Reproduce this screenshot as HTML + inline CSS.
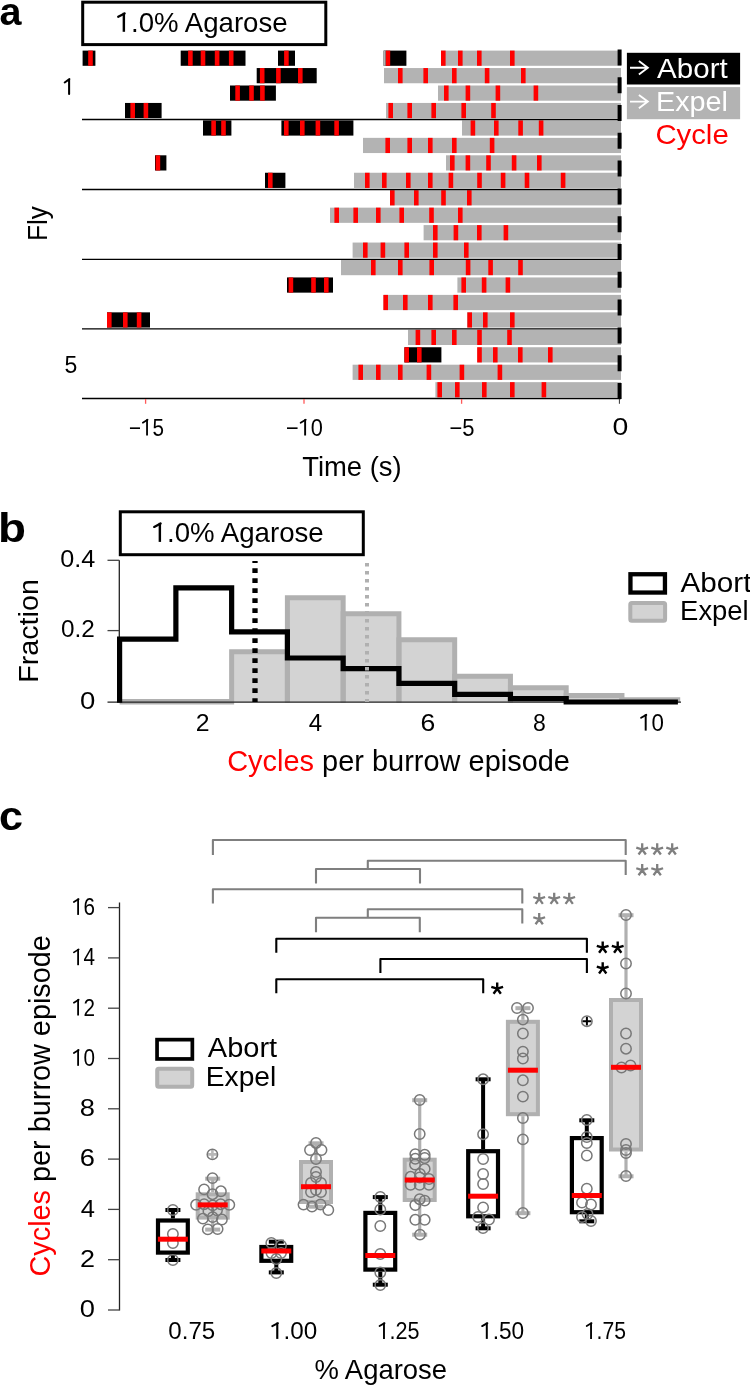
<!DOCTYPE html>
<html><head><meta charset="utf-8"><title>Figure</title>
<style>
html,body{margin:0;padding:0;background:#fff;}
svg{display:block;will-change:transform;font-family:"Liberation Sans", sans-serif;}
</style></head>
<body>
<svg width="750" height="1385" viewBox="0 0 750 1385">
<rect width="750" height="1385" fill="#fff"/>
<rect x="82.7" y="2.2" width="243.1" height="42.4" fill="none" stroke="#000" stroke-width="3"/>
<rect x="82.6" y="50.60" width="12.80" height="15.2" fill="#000"/>
<rect x="88.2" y="50.60" width="4.6" height="15.2" fill="#ff0000"/>
<rect x="180.7" y="50.60" width="64.80" height="15.2" fill="#000"/>
<rect x="188.1" y="50.60" width="4.6" height="15.2" fill="#ff0000"/>
<rect x="200.7" y="50.60" width="4.6" height="15.2" fill="#ff0000"/>
<rect x="214.8" y="50.60" width="4.6" height="15.2" fill="#ff0000"/>
<rect x="228.9" y="50.60" width="4.6" height="15.2" fill="#ff0000"/>
<rect x="278" y="50.60" width="17.00" height="15.2" fill="#000"/>
<rect x="284.1" y="50.60" width="4.6" height="15.2" fill="#ff0000"/>
<rect x="383.6" y="50.60" width="22.80" height="15.2" fill="#000"/>
<rect x="385.6" y="50.60" width="4.6" height="15.2" fill="#ff0000"/>
<rect x="441" y="50.60" width="180.00" height="15.2" fill="#b3b3b3"/>
<rect x="441" y="50.60" width="4.6" height="15.2" fill="#ff0000"/>
<rect x="458" y="50.60" width="4.6" height="15.2" fill="#ff0000"/>
<rect x="477" y="50.60" width="4.6" height="15.2" fill="#ff0000"/>
<rect x="510" y="50.60" width="4.6" height="15.2" fill="#ff0000"/>
<rect x="256.7" y="68.05" width="60.00" height="15.2" fill="#000"/>
<rect x="259.9" y="68.05" width="4.6" height="15.2" fill="#ff0000"/>
<rect x="276.1" y="68.05" width="4.6" height="15.2" fill="#ff0000"/>
<rect x="298" y="68.05" width="4.6" height="15.2" fill="#ff0000"/>
<rect x="384" y="68.05" width="237.00" height="15.2" fill="#b3b3b3"/>
<rect x="398" y="68.05" width="4.6" height="15.2" fill="#ff0000"/>
<rect x="423.4" y="68.05" width="4.6" height="15.2" fill="#ff0000"/>
<rect x="452" y="68.05" width="4.6" height="15.2" fill="#ff0000"/>
<rect x="484.8" y="68.05" width="4.6" height="15.2" fill="#ff0000"/>
<rect x="521" y="68.05" width="4.6" height="15.2" fill="#ff0000"/>
<rect x="230" y="85.50" width="45.90" height="15.2" fill="#000"/>
<rect x="235.3" y="85.50" width="4.6" height="15.2" fill="#ff0000"/>
<rect x="249.2" y="85.50" width="4.6" height="15.2" fill="#ff0000"/>
<rect x="260.1" y="85.50" width="4.6" height="15.2" fill="#ff0000"/>
<rect x="438" y="85.50" width="183.00" height="15.2" fill="#b3b3b3"/>
<rect x="444" y="85.50" width="4.6" height="15.2" fill="#ff0000"/>
<rect x="465.6" y="85.50" width="4.6" height="15.2" fill="#ff0000"/>
<rect x="495.6" y="85.50" width="4.6" height="15.2" fill="#ff0000"/>
<rect x="533.6" y="85.50" width="4.6" height="15.2" fill="#ff0000"/>
<rect x="125" y="102.95" width="36.60" height="15.2" fill="#000"/>
<rect x="130.4" y="102.95" width="4.6" height="15.2" fill="#ff0000"/>
<rect x="143.6" y="102.95" width="4.6" height="15.2" fill="#ff0000"/>
<rect x="386" y="102.95" width="235.00" height="15.2" fill="#b3b3b3"/>
<rect x="388.4" y="102.95" width="4.6" height="15.2" fill="#ff0000"/>
<rect x="407.4" y="102.95" width="4.6" height="15.2" fill="#ff0000"/>
<rect x="431.4" y="102.95" width="4.6" height="15.2" fill="#ff0000"/>
<rect x="461.4" y="102.95" width="4.6" height="15.2" fill="#ff0000"/>
<rect x="491.2" y="102.95" width="4.6" height="15.2" fill="#ff0000"/>
<rect x="203" y="120.40" width="28.40" height="15.2" fill="#000"/>
<rect x="211.3" y="120.40" width="4.6" height="15.2" fill="#ff0000"/>
<rect x="221.2" y="120.40" width="4.6" height="15.2" fill="#ff0000"/>
<rect x="281.4" y="120.40" width="72.00" height="15.2" fill="#000"/>
<rect x="284" y="120.40" width="4.6" height="15.2" fill="#ff0000"/>
<rect x="300" y="120.40" width="4.6" height="15.2" fill="#ff0000"/>
<rect x="315.6" y="120.40" width="4.6" height="15.2" fill="#ff0000"/>
<rect x="334.3" y="120.40" width="4.6" height="15.2" fill="#ff0000"/>
<rect x="462" y="120.40" width="159.00" height="15.2" fill="#b3b3b3"/>
<rect x="470.6" y="120.40" width="4.6" height="15.2" fill="#ff0000"/>
<rect x="494" y="120.40" width="4.6" height="15.2" fill="#ff0000"/>
<rect x="518.3" y="120.40" width="4.6" height="15.2" fill="#ff0000"/>
<rect x="538.8" y="120.40" width="4.6" height="15.2" fill="#ff0000"/>
<rect x="363" y="137.85" width="258.00" height="15.2" fill="#b3b3b3"/>
<rect x="385.4" y="137.85" width="4.6" height="15.2" fill="#ff0000"/>
<rect x="407.4" y="137.85" width="4.6" height="15.2" fill="#ff0000"/>
<rect x="428" y="137.85" width="4.6" height="15.2" fill="#ff0000"/>
<rect x="452" y="137.85" width="4.6" height="15.2" fill="#ff0000"/>
<rect x="489.8" y="137.85" width="4.6" height="15.2" fill="#ff0000"/>
<rect x="155" y="155.30" width="11.40" height="15.2" fill="#000"/>
<rect x="155.6" y="155.30" width="4.6" height="15.2" fill="#ff0000"/>
<rect x="446" y="155.30" width="175.00" height="15.2" fill="#b3b3b3"/>
<rect x="450" y="155.30" width="4.6" height="15.2" fill="#ff0000"/>
<rect x="465.6" y="155.30" width="4.6" height="15.2" fill="#ff0000"/>
<rect x="486.2" y="155.30" width="4.6" height="15.2" fill="#ff0000"/>
<rect x="511.8" y="155.30" width="4.6" height="15.2" fill="#ff0000"/>
<rect x="537" y="155.30" width="4.6" height="15.2" fill="#ff0000"/>
<rect x="265" y="172.75" width="20.40" height="15.2" fill="#000"/>
<rect x="268" y="172.75" width="4.6" height="15.2" fill="#ff0000"/>
<rect x="354" y="172.75" width="267.00" height="15.2" fill="#b3b3b3"/>
<rect x="365" y="172.75" width="4.6" height="15.2" fill="#ff0000"/>
<rect x="382" y="172.75" width="4.6" height="15.2" fill="#ff0000"/>
<rect x="406" y="172.75" width="4.6" height="15.2" fill="#ff0000"/>
<rect x="428" y="172.75" width="4.6" height="15.2" fill="#ff0000"/>
<rect x="448.6" y="172.75" width="4.6" height="15.2" fill="#ff0000"/>
<rect x="477.2" y="172.75" width="4.6" height="15.2" fill="#ff0000"/>
<rect x="500.8" y="172.75" width="4.6" height="15.2" fill="#ff0000"/>
<rect x="524.7" y="172.75" width="4.6" height="15.2" fill="#ff0000"/>
<rect x="560.8" y="172.75" width="4.6" height="15.2" fill="#ff0000"/>
<rect x="390" y="190.20" width="231.00" height="15.2" fill="#b3b3b3"/>
<rect x="390" y="190.20" width="4.6" height="15.2" fill="#ff0000"/>
<rect x="414" y="190.20" width="4.6" height="15.2" fill="#ff0000"/>
<rect x="441.2" y="190.20" width="4.6" height="15.2" fill="#ff0000"/>
<rect x="467" y="190.20" width="4.6" height="15.2" fill="#ff0000"/>
<rect x="330" y="207.65" width="291.00" height="15.2" fill="#b3b3b3"/>
<rect x="334.4" y="207.65" width="4.6" height="15.2" fill="#ff0000"/>
<rect x="353.4" y="207.65" width="4.6" height="15.2" fill="#ff0000"/>
<rect x="376" y="207.65" width="4.6" height="15.2" fill="#ff0000"/>
<rect x="399.4" y="207.65" width="4.6" height="15.2" fill="#ff0000"/>
<rect x="429.2" y="207.65" width="4.6" height="15.2" fill="#ff0000"/>
<rect x="458" y="207.65" width="4.6" height="15.2" fill="#ff0000"/>
<rect x="423.6" y="225.10" width="197.40" height="15.2" fill="#b3b3b3"/>
<rect x="433" y="225.10" width="4.6" height="15.2" fill="#ff0000"/>
<rect x="453.6" y="225.10" width="4.6" height="15.2" fill="#ff0000"/>
<rect x="477" y="225.10" width="4.6" height="15.2" fill="#ff0000"/>
<rect x="503.6" y="225.10" width="4.6" height="15.2" fill="#ff0000"/>
<rect x="352.6" y="242.55" width="268.40" height="15.2" fill="#b3b3b3"/>
<rect x="363" y="242.55" width="4.6" height="15.2" fill="#ff0000"/>
<rect x="380.6" y="242.55" width="4.6" height="15.2" fill="#ff0000"/>
<rect x="404.4" y="242.55" width="4.6" height="15.2" fill="#ff0000"/>
<rect x="433" y="242.55" width="4.6" height="15.2" fill="#ff0000"/>
<rect x="464" y="242.55" width="4.6" height="15.2" fill="#ff0000"/>
<rect x="341" y="260.00" width="280.00" height="15.2" fill="#b3b3b3"/>
<rect x="371" y="260.00" width="4.6" height="15.2" fill="#ff0000"/>
<rect x="398" y="260.00" width="4.6" height="15.2" fill="#ff0000"/>
<rect x="429.4" y="260.00" width="4.6" height="15.2" fill="#ff0000"/>
<rect x="465.8" y="260.00" width="4.6" height="15.2" fill="#ff0000"/>
<rect x="488.3" y="260.00" width="4.6" height="15.2" fill="#ff0000"/>
<rect x="518.2" y="260.00" width="4.6" height="15.2" fill="#ff0000"/>
<rect x="287" y="277.45" width="46.00" height="15.2" fill="#000"/>
<rect x="288.6" y="277.45" width="4.6" height="15.2" fill="#ff0000"/>
<rect x="311.2" y="277.45" width="4.6" height="15.2" fill="#ff0000"/>
<rect x="324" y="277.45" width="4.6" height="15.2" fill="#ff0000"/>
<rect x="457.4" y="277.45" width="163.60" height="15.2" fill="#b3b3b3"/>
<rect x="461.4" y="277.45" width="4.6" height="15.2" fill="#ff0000"/>
<rect x="481.8" y="277.45" width="4.6" height="15.2" fill="#ff0000"/>
<rect x="505.6" y="277.45" width="4.6" height="15.2" fill="#ff0000"/>
<rect x="383.4" y="294.90" width="237.60" height="15.2" fill="#b3b3b3"/>
<rect x="383.4" y="294.90" width="4.6" height="15.2" fill="#ff0000"/>
<rect x="403" y="294.90" width="4.6" height="15.2" fill="#ff0000"/>
<rect x="428" y="294.90" width="4.6" height="15.2" fill="#ff0000"/>
<rect x="453.4" y="294.90" width="4.6" height="15.2" fill="#ff0000"/>
<rect x="107" y="312.35" width="43.00" height="15.2" fill="#000"/>
<rect x="107" y="312.35" width="4.6" height="15.2" fill="#ff0000"/>
<rect x="123" y="312.35" width="4.6" height="15.2" fill="#ff0000"/>
<rect x="136.8" y="312.35" width="4.6" height="15.2" fill="#ff0000"/>
<rect x="467" y="312.35" width="154.00" height="15.2" fill="#b3b3b3"/>
<rect x="467.4" y="312.35" width="4.6" height="15.2" fill="#ff0000"/>
<rect x="483" y="312.35" width="4.6" height="15.2" fill="#ff0000"/>
<rect x="510" y="312.35" width="4.6" height="15.2" fill="#ff0000"/>
<rect x="408" y="329.80" width="213.00" height="15.2" fill="#b3b3b3"/>
<rect x="415.6" y="329.80" width="4.6" height="15.2" fill="#ff0000"/>
<rect x="431.4" y="329.80" width="4.6" height="15.2" fill="#ff0000"/>
<rect x="452" y="329.80" width="4.6" height="15.2" fill="#ff0000"/>
<rect x="477.2" y="329.80" width="4.6" height="15.2" fill="#ff0000"/>
<rect x="507.2" y="329.80" width="4.6" height="15.2" fill="#ff0000"/>
<rect x="404.4" y="347.25" width="37.00" height="15.2" fill="#000"/>
<rect x="404.4" y="347.25" width="4.6" height="15.2" fill="#ff0000"/>
<rect x="417" y="347.25" width="4.6" height="15.2" fill="#ff0000"/>
<rect x="477.2" y="347.25" width="143.80" height="15.2" fill="#b3b3b3"/>
<rect x="477.2" y="347.25" width="4.6" height="15.2" fill="#ff0000"/>
<rect x="493" y="347.25" width="4.6" height="15.2" fill="#ff0000"/>
<rect x="518" y="347.25" width="4.6" height="15.2" fill="#ff0000"/>
<rect x="548" y="347.25" width="4.6" height="15.2" fill="#ff0000"/>
<rect x="352.6" y="364.70" width="268.40" height="15.2" fill="#b3b3b3"/>
<rect x="358.4" y="364.70" width="4.6" height="15.2" fill="#ff0000"/>
<rect x="376" y="364.70" width="4.6" height="15.2" fill="#ff0000"/>
<rect x="398" y="364.70" width="4.6" height="15.2" fill="#ff0000"/>
<rect x="426.6" y="364.70" width="4.6" height="15.2" fill="#ff0000"/>
<rect x="459.6" y="364.70" width="4.6" height="15.2" fill="#ff0000"/>
<rect x="497.6" y="364.70" width="4.6" height="15.2" fill="#ff0000"/>
<rect x="435.4" y="382.15" width="185.60" height="15.2" fill="#b3b3b3"/>
<rect x="437.4" y="382.15" width="4.6" height="15.2" fill="#ff0000"/>
<rect x="455" y="382.15" width="4.6" height="15.2" fill="#ff0000"/>
<rect x="482" y="382.15" width="4.6" height="15.2" fill="#ff0000"/>
<rect x="510" y="382.15" width="4.6" height="15.2" fill="#ff0000"/>
<rect x="541.6" y="382.15" width="4.6" height="15.2" fill="#ff0000"/>
<rect x="383.6" y="50.6" width="2" height="15.2" fill="#b3b3b3"/>
<line x1="82" y1="119.5" x2="620" y2="119.5" stroke="#000" stroke-width="1.35"/>
<line x1="82" y1="189.45" x2="620" y2="189.45" stroke="#000" stroke-width="1.35"/>
<line x1="82" y1="259.4" x2="620" y2="259.4" stroke="#000" stroke-width="1.35"/>
<line x1="82" y1="328.9" x2="620" y2="328.9" stroke="#000" stroke-width="1.35"/>
<line x1="82" y1="398.5" x2="621" y2="398.5" stroke="#000" stroke-width="1.3"/>
<line x1="619.6" y1="49.4" x2="619.6" y2="399.4" stroke="#000" stroke-width="4" stroke-dasharray="16 11.8"/>
<line x1="145.6" y1="399" x2="145.6" y2="403.8" stroke="#ff5a5a" stroke-width="1.3"/>
<line x1="304" y1="399" x2="304" y2="403.8" stroke="#ff5a5a" stroke-width="1.3"/>
<line x1="461.6" y1="399" x2="461.6" y2="403.8" stroke="#ff5a5a" stroke-width="1.3"/>
<line x1="619.4" y1="399" x2="619.4" y2="403.8" stroke="#333" stroke-width="1"/>
<path d="M69.1,79.6 V94.0 M69.4,79.2 L64.7,82.5" fill="none" stroke="#000" stroke-width="2.05" stroke-linecap="round"/>
<rect x="626.9" y="52.8" width="113.2" height="31.7" fill="#000"/>
<rect x="626.9" y="87.1" width="113.2" height="32.1" fill="#b3b3b3"/>
<path d="M630.0,67.8 H647.6 M638.9,61.099999999999994 L647.8,67.8 L638.9,74.5" fill="none" stroke="#fff" stroke-width="1.9" stroke-linejoin="miter"/>
<path d="M630.0,101.6 H647.6 M638.9,94.89999999999999 L647.8,101.6 L638.9,108.3" fill="none" stroke="#fff" stroke-width="1.9" stroke-linejoin="miter"/>
<rect x="120.3" y="511.8" width="243" height="42.9" fill="none" stroke="#000" stroke-width="3"/>
<line x1="119.3" y1="560.3" x2="119.3" y2="702" stroke="#222" stroke-width="1.3"/>
<line x1="107.5" y1="560.3" x2="119.3" y2="560.3" stroke="#444" stroke-width="1.3"/>
<line x1="107.5" y1="630.6" x2="119.3" y2="630.6" stroke="#444" stroke-width="1.3"/>
<line x1="119.62" y1="701.8" x2="234.14" y2="701.8" stroke="#b0b0b0" stroke-width="5.4"/>
<rect x="231.64" y="651.70" width="55.76" height="50.50" fill="#d3d3d3"/>
<rect x="287.40" y="597.85" width="55.76" height="104.35" fill="#d3d3d3"/>
<rect x="343.16" y="613.79" width="55.76" height="88.41" fill="#d3d3d3"/>
<rect x="398.92" y="639.65" width="55.76" height="62.55" fill="#d3d3d3"/>
<rect x="454.68" y="676.14" width="55.76" height="26.06" fill="#d3d3d3"/>
<rect x="510.44" y="687.83" width="55.76" height="14.37" fill="#d3d3d3"/>
<rect x="566.20" y="695.62" width="55.76" height="6.58" fill="#d3d3d3"/>
<rect x="621.96" y="699.87" width="55.76" height="2.33" fill="#d3d3d3"/>
<path d="M231.64,702.2 V651.70 H287.40 V702.2" fill="none" stroke="#b0b0b0" stroke-width="5" stroke-linejoin="miter"/>
<path d="M287.40,702.2 V597.85 H343.16 V702.2" fill="none" stroke="#b0b0b0" stroke-width="5" stroke-linejoin="miter"/>
<path d="M343.16,702.2 V613.79 H398.92 V702.2" fill="none" stroke="#b0b0b0" stroke-width="5" stroke-linejoin="miter"/>
<path d="M398.92,702.2 V639.65 H454.68 V702.2" fill="none" stroke="#b0b0b0" stroke-width="5" stroke-linejoin="miter"/>
<path d="M454.68,702.2 V676.14 H510.44 V702.2" fill="none" stroke="#b0b0b0" stroke-width="5" stroke-linejoin="miter"/>
<path d="M510.44,702.2 V687.83 H566.20 V702.2" fill="none" stroke="#b0b0b0" stroke-width="5" stroke-linejoin="miter"/>
<path d="M566.20,702.2 V695.62 H621.96 V702.2" fill="none" stroke="#b0b0b0" stroke-width="5" stroke-linejoin="miter"/>
<path d="M621.96,702.2 V699.87 H677.72 V702.2" fill="none" stroke="#b0b0b0" stroke-width="5" stroke-linejoin="miter"/>
<line x1="107.5" y1="702.1" x2="681" y2="702.1" stroke="#222" stroke-width="1.4"/>
<path d="M119.6,702.8 V639.1 H175.88 V587.8 H231.64 V631.8 H287.40 V658.0 H343.16 V668.7 H398.92 V683.3 H454.68 V694.3 H510.44 V698.7 H566.20 V702 H621.96 V702 H677.9" fill="none" stroke="#000" stroke-width="5.2" stroke-linejoin="miter" stroke-linecap="butt"/>
<line x1="255" y1="561" x2="255" y2="702" stroke="#000" stroke-width="5.3" stroke-dasharray="4.7 5.3" stroke-dashoffset="2.8"/>
<line x1="367" y1="563" x2="367" y2="702" stroke="#b0b0b0" stroke-width="4" stroke-dasharray="3.6 4.4"/>
<rect x="630.45" y="574.25" width="34.5" height="18.3" fill="#fff" stroke="#000" stroke-width="4.3"/>
<rect x="630.3" y="603" width="34.8" height="17.7" rx="1.5" fill="#d3d3d3" stroke="#b0b0b0" stroke-width="4"/>
<line x1="119.5" y1="902.5" x2="119.5" y2="1310.5" stroke="#222" stroke-width="1.3"/>
<line x1="108" y1="1310.00" x2="119.5" y2="1310.00" stroke="#444" stroke-width="1.3"/>
<line x1="108" y1="1259.70" x2="119.5" y2="1259.70" stroke="#444" stroke-width="1.3"/>
<line x1="108" y1="1209.40" x2="119.5" y2="1209.40" stroke="#444" stroke-width="1.3"/>
<line x1="108" y1="1159.10" x2="119.5" y2="1159.10" stroke="#444" stroke-width="1.3"/>
<line x1="108" y1="1108.80" x2="119.5" y2="1108.80" stroke="#444" stroke-width="1.3"/>
<line x1="108" y1="1058.50" x2="119.5" y2="1058.50" stroke="#444" stroke-width="1.3"/>
<line x1="108" y1="1008.20" x2="119.5" y2="1008.20" stroke="#444" stroke-width="1.3"/>
<line x1="108" y1="957.90" x2="119.5" y2="957.90" stroke="#444" stroke-width="1.3"/>
<line x1="108" y1="907.60" x2="119.5" y2="907.60" stroke="#444" stroke-width="1.3"/>
<rect x="157.05" y="1039.65" width="35.3" height="19.3" fill="#fff" stroke="#000" stroke-width="3.7"/>
<rect x="157.2" y="1068.8" width="35" height="18" rx="1.5" fill="#d3d3d3" stroke="#b0b0b0" stroke-width="4"/>
<path d="M212.9,855 V840 H625.7 V855" fill="none" stroke="#7f7f7f" stroke-width="2.1" stroke-linejoin="round"/>
<path d="M316,883.5 V869 H420 V883.5 M367.8,869 V860.7 H625.7 V875" fill="none" stroke="#7f7f7f" stroke-width="2.1" stroke-linejoin="round"/>
<path d="M212.9,903.5 V889.3 H522.3 V903.5" fill="none" stroke="#7f7f7f" stroke-width="2.1" stroke-linejoin="round"/>
<path d="M316,932.2 V917.7 H419.8 V932.2 M367.8,917.7 V909.3 H522.3 V923.5" fill="none" stroke="#7f7f7f" stroke-width="2.1" stroke-linejoin="round"/>
<path d="M276.3,952.8 V938.8 H586.9 V952.8" fill="none" stroke="#000" stroke-width="2.1" stroke-linejoin="round"/>
<path d="M380.4,973 V959 H586.9 V973" fill="none" stroke="#000" stroke-width="2.1" stroke-linejoin="round"/>
<path d="M276.3,993.2 V979.3 H483.2 V993.2" fill="none" stroke="#000" stroke-width="2.1" stroke-linejoin="round"/>
<path d="M642.20,849.50 L642.20,843.30 M642.20,849.50 L648.09,847.58 M642.20,849.50 L645.84,854.52 M642.20,849.50 L638.55,854.52 M642.20,849.50 L636.30,847.58 " stroke="#7f7f7f" stroke-width="2.3" stroke-linecap="butt" fill="none"/>
<path d="M657.20,849.50 L657.20,843.30 M657.20,849.50 L663.09,847.58 M657.20,849.50 L660.84,854.52 M657.20,849.50 L653.55,854.52 M657.20,849.50 L651.30,847.58 " stroke="#7f7f7f" stroke-width="2.3" stroke-linecap="butt" fill="none"/>
<path d="M672.20,849.50 L672.20,843.30 M672.20,849.50 L678.09,847.58 M672.20,849.50 L675.84,854.52 M672.20,849.50 L668.55,854.52 M672.20,849.50 L666.30,847.58 " stroke="#7f7f7f" stroke-width="2.3" stroke-linecap="butt" fill="none"/>
<path d="M642.20,870.20 L642.20,864.00 M642.20,870.20 L648.09,868.28 M642.20,870.20 L645.84,875.22 M642.20,870.20 L638.55,875.22 M642.20,870.20 L636.30,868.28 " stroke="#7f7f7f" stroke-width="2.3" stroke-linecap="butt" fill="none"/>
<path d="M657.20,870.20 L657.20,864.00 M657.20,870.20 L663.09,868.28 M657.20,870.20 L660.84,875.22 M657.20,870.20 L653.55,875.22 M657.20,870.20 L651.30,868.28 " stroke="#7f7f7f" stroke-width="2.3" stroke-linecap="butt" fill="none"/>
<path d="M539.20,898.90 L539.20,892.70 M539.20,898.90 L545.09,896.98 M539.20,898.90 L542.84,903.92 M539.20,898.90 L535.55,903.92 M539.20,898.90 L533.30,896.98 " stroke="#7f7f7f" stroke-width="2.3" stroke-linecap="butt" fill="none"/>
<path d="M554.20,898.90 L554.20,892.70 M554.20,898.90 L560.09,896.98 M554.20,898.90 L557.84,903.92 M554.20,898.90 L550.55,903.92 M554.20,898.90 L548.30,896.98 " stroke="#7f7f7f" stroke-width="2.3" stroke-linecap="butt" fill="none"/>
<path d="M569.20,898.90 L569.20,892.70 M569.20,898.90 L575.09,896.98 M569.20,898.90 L572.84,903.92 M569.20,898.90 L565.55,903.92 M569.20,898.90 L563.30,896.98 " stroke="#7f7f7f" stroke-width="2.3" stroke-linecap="butt" fill="none"/>
<path d="M539.20,919.20 L539.20,913.00 M539.20,919.20 L545.09,917.28 M539.20,919.20 L542.84,924.22 M539.20,919.20 L535.55,924.22 M539.20,919.20 L533.30,917.28 " stroke="#7f7f7f" stroke-width="2.3" stroke-linecap="butt" fill="none"/>
<path d="M602.70,947.70 L602.70,941.50 M602.70,947.70 L608.59,945.78 M602.70,947.70 L606.34,952.72 M602.70,947.70 L599.05,952.72 M602.70,947.70 L596.80,945.78 " stroke="#000" stroke-width="2.4" stroke-linecap="butt" fill="none"/>
<path d="M617.70,947.70 L617.70,941.50 M617.70,947.70 L623.59,945.78 M617.70,947.70 L621.34,952.72 M617.70,947.70 L614.05,952.72 M617.70,947.70 L611.80,945.78 " stroke="#000" stroke-width="2.4" stroke-linecap="butt" fill="none"/>
<path d="M602.70,968.50 L602.70,962.30 M602.70,968.50 L608.59,966.58 M602.70,968.50 L606.34,973.52 M602.70,968.50 L599.05,973.52 M602.70,968.50 L596.80,966.58 " stroke="#000" stroke-width="2.4" stroke-linecap="butt" fill="none"/>
<path d="M497.20,988.70 L497.20,982.50 M497.20,988.70 L503.09,986.78 M497.20,988.70 L500.84,993.72 M497.20,988.70 L493.55,993.72 M497.20,988.70 L491.30,986.78 " stroke="#000" stroke-width="2.4" stroke-linecap="butt" fill="none"/>
<line x1="172.9" y1="1210" x2="172.9" y2="1218.4" stroke="#000" stroke-width="4"/>
<line x1="172.9" y1="1254.7" x2="172.9" y2="1260" stroke="#000" stroke-width="4"/>
<line x1="165.4" y1="1210" x2="180.4" y2="1210" stroke="#000" stroke-width="4"/>
<line x1="165.4" y1="1260" x2="180.4" y2="1260" stroke="#000" stroke-width="4"/>
<rect x="158.00" y="1220.50" width="29.80" height="32.10" fill="#fff" stroke="#000" stroke-width="4.2"/>
<circle cx="172.9" cy="1210" r="5.2" fill="none" stroke="#787878" stroke-width="1.5"/>
<circle cx="172.9" cy="1260" r="5.2" fill="none" stroke="#787878" stroke-width="1.5"/>
<circle cx="172.9" cy="1234" r="5.2" fill="none" stroke="#787878" stroke-width="1.5"/>
<circle cx="172.9" cy="1243" r="5.2" fill="none" stroke="#787878" stroke-width="1.5"/>
<line x1="212.7" y1="1178.7" x2="212.7" y2="1192.3" stroke="#b0b0b0" stroke-width="3.2"/>
<line x1="212.7" y1="1219.6" x2="212.7" y2="1229.6" stroke="#b0b0b0" stroke-width="3.2"/>
<line x1="205.2" y1="1178.7" x2="220.2" y2="1178.7" stroke="#b0b0b0" stroke-width="4"/>
<line x1="205.2" y1="1229.6" x2="220.2" y2="1229.6" stroke="#b0b0b0" stroke-width="4"/>
<rect x="197.70" y="1194.30" width="30.00" height="23.30" fill="#d3d3d3" stroke="#b0b0b0" stroke-width="4"/>
<path d="M207.8,1154.4 H217.0 M212.4,1150.0 V1158.8000000000002" stroke="#b8b8b8" stroke-width="2.6"/>
<circle cx="212.4" cy="1154.4" r="5.2" fill="none" stroke="#787878" stroke-width="1.5"/>
<circle cx="212.5" cy="1178.1" r="5.2" fill="none" stroke="#787878" stroke-width="1.5"/>
<circle cx="204.1" cy="1189.4" r="5.2" fill="none" stroke="#787878" stroke-width="1.5"/>
<circle cx="220.9" cy="1191.3" r="5.2" fill="none" stroke="#787878" stroke-width="1.5"/>
<circle cx="212.5" cy="1194.2" r="5.2" fill="none" stroke="#787878" stroke-width="1.5"/>
<circle cx="196.1" cy="1204.8" r="5.2" fill="none" stroke="#787878" stroke-width="1.5"/>
<circle cx="229.3" cy="1204.8" r="5.2" fill="none" stroke="#787878" stroke-width="1.5"/>
<circle cx="204.1" cy="1204.2" r="5.2" fill="none" stroke="#787878" stroke-width="1.5"/>
<circle cx="220.7" cy="1204.2" r="5.2" fill="none" stroke="#787878" stroke-width="1.5"/>
<circle cx="212.7" cy="1205.4" r="5.2" fill="none" stroke="#787878" stroke-width="1.5"/>
<circle cx="208.4" cy="1211" r="5.2" fill="none" stroke="#787878" stroke-width="1.5"/>
<circle cx="217" cy="1210.3" r="5.2" fill="none" stroke="#787878" stroke-width="1.5"/>
<circle cx="202.9" cy="1218.6" r="5.2" fill="none" stroke="#787878" stroke-width="1.5"/>
<circle cx="221.9" cy="1219.5" r="5.2" fill="none" stroke="#787878" stroke-width="1.5"/>
<circle cx="212.7" cy="1217.1" r="5.2" fill="none" stroke="#787878" stroke-width="1.5"/>
<circle cx="207.8" cy="1229.4" r="5.2" fill="none" stroke="#787878" stroke-width="1.5"/>
<circle cx="217.6" cy="1229" r="5.2" fill="none" stroke="#787878" stroke-width="1.5"/>
<line x1="276.3" y1="1241.7" x2="276.3" y2="1244.9" stroke="#000" stroke-width="4"/>
<line x1="276.3" y1="1262.9" x2="276.3" y2="1272.4" stroke="#000" stroke-width="4"/>
<line x1="268.8" y1="1241.7" x2="283.8" y2="1241.7" stroke="#000" stroke-width="4"/>
<line x1="268.8" y1="1272.4" x2="283.8" y2="1272.4" stroke="#000" stroke-width="4"/>
<rect x="261.40" y="1247.00" width="29.80" height="13.80" fill="#fff" stroke="#000" stroke-width="4.2"/>
<circle cx="271.3" cy="1243" r="5.2" fill="none" stroke="#787878" stroke-width="1.5"/>
<circle cx="281" cy="1245.5" r="5.2" fill="none" stroke="#787878" stroke-width="1.5"/>
<circle cx="271.5" cy="1253" r="5.2" fill="none" stroke="#787878" stroke-width="1.5"/>
<circle cx="281" cy="1253" r="5.2" fill="none" stroke="#787878" stroke-width="1.5"/>
<circle cx="276.3" cy="1259" r="5.2" fill="none" stroke="#787878" stroke-width="1.5"/>
<circle cx="276.3" cy="1273" r="5.2" fill="none" stroke="#787878" stroke-width="1.5"/>
<line x1="316" y1="1143.3" x2="316" y2="1160" stroke="#b0b0b0" stroke-width="3.2"/>
<line x1="316" y1="1204" x2="316" y2="1206.7" stroke="#b0b0b0" stroke-width="3.2"/>
<line x1="308.5" y1="1143.3" x2="323.5" y2="1143.3" stroke="#b0b0b0" stroke-width="4"/>
<line x1="308.5" y1="1206.7" x2="323.5" y2="1206.7" stroke="#b0b0b0" stroke-width="4"/>
<rect x="301.00" y="1162.00" width="30.00" height="40.00" fill="#d3d3d3" stroke="#b0b0b0" stroke-width="4"/>
<circle cx="316" cy="1143" r="5.2" fill="none" stroke="#787878" stroke-width="1.5"/>
<circle cx="310" cy="1150" r="5.2" fill="none" stroke="#787878" stroke-width="1.5"/>
<circle cx="321.5" cy="1150" r="5.2" fill="none" stroke="#787878" stroke-width="1.5"/>
<circle cx="316" cy="1159" r="5.2" fill="none" stroke="#787878" stroke-width="1.5"/>
<circle cx="316" cy="1172" r="5.2" fill="none" stroke="#787878" stroke-width="1.5"/>
<circle cx="316" cy="1177" r="5.2" fill="none" stroke="#787878" stroke-width="1.5"/>
<circle cx="311" cy="1183" r="5.2" fill="none" stroke="#787878" stroke-width="1.5"/>
<circle cx="321" cy="1183" r="5.2" fill="none" stroke="#787878" stroke-width="1.5"/>
<circle cx="316" cy="1190" r="5.2" fill="none" stroke="#787878" stroke-width="1.5"/>
<circle cx="311" cy="1192" r="5.2" fill="none" stroke="#787878" stroke-width="1.5"/>
<circle cx="321" cy="1192" r="5.2" fill="none" stroke="#787878" stroke-width="1.5"/>
<circle cx="303.5" cy="1204.6" r="5.2" fill="none" stroke="#787878" stroke-width="1.5"/>
<circle cx="312" cy="1206.6" r="5.2" fill="none" stroke="#787878" stroke-width="1.5"/>
<circle cx="320.5" cy="1204.5" r="5.2" fill="none" stroke="#787878" stroke-width="1.5"/>
<circle cx="328.3" cy="1210" r="5.2" fill="none" stroke="#787878" stroke-width="1.5"/>
<line x1="380.3" y1="1197.1" x2="380.3" y2="1210.8" stroke="#000" stroke-width="4"/>
<line x1="380.3" y1="1271.7" x2="380.3" y2="1284.7" stroke="#000" stroke-width="4"/>
<line x1="372.8" y1="1197.1" x2="387.8" y2="1197.1" stroke="#000" stroke-width="4"/>
<line x1="372.8" y1="1284.7" x2="387.8" y2="1284.7" stroke="#000" stroke-width="4"/>
<rect x="365.40" y="1212.90" width="29.80" height="56.70" fill="#fff" stroke="#000" stroke-width="4.2"/>
<circle cx="380.3" cy="1197" r="5.2" fill="none" stroke="#787878" stroke-width="1.5"/>
<circle cx="380.3" cy="1209.5" r="5.2" fill="none" stroke="#787878" stroke-width="1.5"/>
<circle cx="380.3" cy="1226" r="5.2" fill="none" stroke="#787878" stroke-width="1.5"/>
<circle cx="380.3" cy="1254" r="5.2" fill="none" stroke="#787878" stroke-width="1.5"/>
<circle cx="380.3" cy="1272.5" r="5.2" fill="none" stroke="#787878" stroke-width="1.5"/>
<circle cx="380.3" cy="1285" r="5.2" fill="none" stroke="#787878" stroke-width="1.5"/>
<line x1="419.7" y1="1100.2" x2="419.7" y2="1157.7" stroke="#b0b0b0" stroke-width="3.2"/>
<line x1="419.7" y1="1202" x2="419.7" y2="1234.7" stroke="#b0b0b0" stroke-width="3.2"/>
<line x1="412.2" y1="1100.2" x2="427.2" y2="1100.2" stroke="#b0b0b0" stroke-width="4"/>
<line x1="412.2" y1="1234.7" x2="427.2" y2="1234.7" stroke="#b0b0b0" stroke-width="4"/>
<rect x="404.70" y="1159.70" width="30.00" height="40.30" fill="#d3d3d3" stroke="#b0b0b0" stroke-width="4"/>
<circle cx="419.7" cy="1100" r="5.2" fill="none" stroke="#787878" stroke-width="1.5"/>
<circle cx="419.7" cy="1134" r="5.2" fill="none" stroke="#787878" stroke-width="1.5"/>
<circle cx="415.3" cy="1154.1" r="5.2" fill="none" stroke="#787878" stroke-width="1.5"/>
<circle cx="424.7" cy="1154.8" r="5.2" fill="none" stroke="#787878" stroke-width="1.5"/>
<circle cx="415.3" cy="1158.8" r="5.2" fill="none" stroke="#787878" stroke-width="1.5"/>
<circle cx="424.7" cy="1158" r="5.2" fill="none" stroke="#787878" stroke-width="1.5"/>
<circle cx="415" cy="1164.5" r="5.2" fill="none" stroke="#787878" stroke-width="1.5"/>
<circle cx="424.7" cy="1168.9" r="5.2" fill="none" stroke="#787878" stroke-width="1.5"/>
<circle cx="420" cy="1173.9" r="5.2" fill="none" stroke="#787878" stroke-width="1.5"/>
<circle cx="410.6" cy="1176.8" r="5.2" fill="none" stroke="#787878" stroke-width="1.5"/>
<circle cx="410.6" cy="1184.8" r="5.2" fill="none" stroke="#787878" stroke-width="1.5"/>
<circle cx="419.7" cy="1177.5" r="5.2" fill="none" stroke="#787878" stroke-width="1.5"/>
<circle cx="429" cy="1179" r="5.2" fill="none" stroke="#787878" stroke-width="1.5"/>
<circle cx="419.7" cy="1184.8" r="5.2" fill="none" stroke="#787878" stroke-width="1.5"/>
<circle cx="429" cy="1184.8" r="5.2" fill="none" stroke="#787878" stroke-width="1.5"/>
<circle cx="419.7" cy="1199.2" r="5.2" fill="none" stroke="#787878" stroke-width="1.5"/>
<circle cx="424.7" cy="1200.6" r="5.2" fill="none" stroke="#787878" stroke-width="1.5"/>
<circle cx="415.3" cy="1205" r="5.2" fill="none" stroke="#787878" stroke-width="1.5"/>
<circle cx="415.3" cy="1219.8" r="5.2" fill="none" stroke="#787878" stroke-width="1.5"/>
<circle cx="424.7" cy="1219.8" r="5.2" fill="none" stroke="#787878" stroke-width="1.5"/>
<circle cx="420" cy="1234.6" r="5.2" fill="none" stroke="#787878" stroke-width="1.5"/>
<line x1="483.1" y1="1079.3" x2="483.1" y2="1149.1" stroke="#000" stroke-width="4"/>
<line x1="483.1" y1="1218.4" x2="483.1" y2="1228.3" stroke="#000" stroke-width="4"/>
<line x1="475.6" y1="1079.3" x2="490.6" y2="1079.3" stroke="#000" stroke-width="4"/>
<line x1="475.6" y1="1228.3" x2="490.6" y2="1228.3" stroke="#000" stroke-width="4"/>
<rect x="468.20" y="1151.20" width="29.80" height="65.10" fill="#fff" stroke="#000" stroke-width="4.2"/>
<circle cx="483.1" cy="1079.3" r="5.2" fill="none" stroke="#787878" stroke-width="1.5"/>
<circle cx="483.1" cy="1134.2" r="5.2" fill="none" stroke="#787878" stroke-width="1.5"/>
<circle cx="483.1" cy="1159" r="5.2" fill="none" stroke="#787878" stroke-width="1.5"/>
<circle cx="483.1" cy="1174" r="5.2" fill="none" stroke="#787878" stroke-width="1.5"/>
<circle cx="483.1" cy="1184" r="5.2" fill="none" stroke="#787878" stroke-width="1.5"/>
<circle cx="483.1" cy="1207.4" r="5.2" fill="none" stroke="#787878" stroke-width="1.5"/>
<circle cx="478" cy="1217" r="5.2" fill="none" stroke="#787878" stroke-width="1.5"/>
<circle cx="489" cy="1219.5" r="5.2" fill="none" stroke="#787878" stroke-width="1.5"/>
<circle cx="483" cy="1228" r="5.2" fill="none" stroke="#787878" stroke-width="1.5"/>
<line x1="522.9" y1="1008.2" x2="522.9" y2="1019.8" stroke="#b0b0b0" stroke-width="3.2"/>
<line x1="522.9" y1="1116.2" x2="522.9" y2="1213.2" stroke="#b0b0b0" stroke-width="3.2"/>
<line x1="515.4" y1="1008.2" x2="530.4" y2="1008.2" stroke="#b0b0b0" stroke-width="4"/>
<line x1="515.4" y1="1213.2" x2="530.4" y2="1213.2" stroke="#b0b0b0" stroke-width="4"/>
<rect x="507.90" y="1021.80" width="30.00" height="92.40" fill="#d3d3d3" stroke="#b0b0b0" stroke-width="4"/>
<circle cx="517" cy="1008" r="5.2" fill="none" stroke="#787878" stroke-width="1.5"/>
<circle cx="528" cy="1008" r="5.2" fill="none" stroke="#787878" stroke-width="1.5"/>
<circle cx="522.9" cy="1019.6" r="5.2" fill="none" stroke="#787878" stroke-width="1.5"/>
<circle cx="522.9" cy="1033.5" r="5.2" fill="none" stroke="#787878" stroke-width="1.5"/>
<circle cx="522.9" cy="1051.6" r="5.2" fill="none" stroke="#787878" stroke-width="1.5"/>
<circle cx="522.9" cy="1058.5" r="5.2" fill="none" stroke="#787878" stroke-width="1.5"/>
<circle cx="522.9" cy="1080.3" r="5.2" fill="none" stroke="#787878" stroke-width="1.5"/>
<circle cx="522.9" cy="1096.6" r="5.2" fill="none" stroke="#787878" stroke-width="1.5"/>
<circle cx="522.9" cy="1118" r="5.2" fill="none" stroke="#787878" stroke-width="1.5"/>
<circle cx="522.9" cy="1139.4" r="5.2" fill="none" stroke="#787878" stroke-width="1.5"/>
<circle cx="522.9" cy="1213" r="5.2" fill="none" stroke="#787878" stroke-width="1.5"/>
<line x1="586.8" y1="1120.3" x2="586.8" y2="1136" stroke="#000" stroke-width="4"/>
<line x1="586.8" y1="1214.3" x2="586.8" y2="1221.3" stroke="#000" stroke-width="4"/>
<line x1="579.3" y1="1120.3" x2="594.3" y2="1120.3" stroke="#000" stroke-width="4"/>
<line x1="579.3" y1="1221.3" x2="594.3" y2="1221.3" stroke="#000" stroke-width="4"/>
<rect x="571.90" y="1138.10" width="29.80" height="74.10" fill="#fff" stroke="#000" stroke-width="4.2"/>
<path d="M582.3,1021.2 H591.5 M586.9,1016.8000000000001 V1025.6000000000001" stroke="#000" stroke-width="2.0"/>
<circle cx="586.9" cy="1021.2" r="5.2" fill="none" stroke="#787878" stroke-width="1.5"/>
<circle cx="586.8" cy="1120" r="5.2" fill="none" stroke="#787878" stroke-width="1.5"/>
<circle cx="586.8" cy="1137" r="5.2" fill="none" stroke="#787878" stroke-width="1.5"/>
<circle cx="586.8" cy="1143" r="5.2" fill="none" stroke="#787878" stroke-width="1.5"/>
<circle cx="586.8" cy="1155.5" r="5.2" fill="none" stroke="#787878" stroke-width="1.5"/>
<circle cx="586.8" cy="1188.7" r="5.2" fill="none" stroke="#787878" stroke-width="1.5"/>
<circle cx="582" cy="1202.5" r="5.2" fill="none" stroke="#787878" stroke-width="1.5"/>
<circle cx="591" cy="1204.5" r="5.2" fill="none" stroke="#787878" stroke-width="1.5"/>
<circle cx="587.5" cy="1214" r="5.2" fill="none" stroke="#787878" stroke-width="1.5"/>
<circle cx="582" cy="1217" r="5.2" fill="none" stroke="#787878" stroke-width="1.5"/>
<circle cx="591" cy="1221" r="5.2" fill="none" stroke="#787878" stroke-width="1.5"/>
<line x1="626" y1="915.2" x2="626" y2="998" stroke="#b0b0b0" stroke-width="3.2"/>
<line x1="626" y1="1151.5" x2="626" y2="1176.3" stroke="#b0b0b0" stroke-width="3.2"/>
<line x1="618.5" y1="915.2" x2="633.5" y2="915.2" stroke="#b0b0b0" stroke-width="4"/>
<line x1="618.5" y1="1176.3" x2="633.5" y2="1176.3" stroke="#b0b0b0" stroke-width="4"/>
<rect x="611.00" y="1000.00" width="30.00" height="149.50" fill="#d3d3d3" stroke="#b0b0b0" stroke-width="4"/>
<circle cx="626" cy="915" r="5.2" fill="none" stroke="#787878" stroke-width="1.5"/>
<circle cx="626" cy="963.5" r="5.2" fill="none" stroke="#787878" stroke-width="1.5"/>
<circle cx="626" cy="993.5" r="5.2" fill="none" stroke="#787878" stroke-width="1.5"/>
<circle cx="626" cy="1033.5" r="5.2" fill="none" stroke="#787878" stroke-width="1.5"/>
<circle cx="626" cy="1048.7" r="5.2" fill="none" stroke="#787878" stroke-width="1.5"/>
<circle cx="621.5" cy="1067.5" r="5.2" fill="none" stroke="#787878" stroke-width="1.5"/>
<circle cx="630.5" cy="1065.5" r="5.2" fill="none" stroke="#787878" stroke-width="1.5"/>
<circle cx="626" cy="1144" r="5.2" fill="none" stroke="#787878" stroke-width="1.5"/>
<circle cx="626" cy="1150" r="5.2" fill="none" stroke="#787878" stroke-width="1.5"/>
<circle cx="626" cy="1153" r="5.2" fill="none" stroke="#787878" stroke-width="1.5"/>
<circle cx="626" cy="1176" r="5.2" fill="none" stroke="#787878" stroke-width="1.5"/>
<text x="115.70" y="31.80" font-size="27.5" fill="#000" textLength="171.90" lengthAdjust="spacingAndGlyphs"> .0% Agarose</text>
<text x="64.50" y="372.60" font-size="23" fill="#000" textLength="12.80" lengthAdjust="spacingAndGlyphs">5</text>
<text x="128.90" y="435.50" font-size="23.5" fill="#000" textLength="35.00" lengthAdjust="spacingAndGlyphs">− 5</text>
<text x="286.00" y="435.50" font-size="23.5" fill="#000" textLength="36.90" lengthAdjust="spacingAndGlyphs">− 0</text>
<text x="449.40" y="435.50" font-size="23.5" fill="#000" textLength="25.10" lengthAdjust="spacingAndGlyphs">−5</text>
<text x="612.40" y="435.40" font-size="23.5" fill="#000" textLength="15.80" lengthAdjust="spacingAndGlyphs">0</text>
<text x="302.20" y="476.30" font-size="27.8" fill="#000" textLength="99.50" lengthAdjust="spacingAndGlyphs">Time (s)</text>
<text transform="translate(46.70,241.10) rotate(-90)" font-size="27.5" fill="#000" textLength="34.90" lengthAdjust="spacingAndGlyphs">Fly</text>
<text x="657.10" y="77.90" font-size="28" fill="#fff" textLength="70.60" lengthAdjust="spacingAndGlyphs">Abort</text>
<text x="656.00" y="110.90" font-size="28" fill="#fff" textLength="72.00" lengthAdjust="spacingAndGlyphs">Expel</text>
<text x="655.40" y="143.90" font-size="27.5" fill="#ff0000" textLength="73.30" lengthAdjust="spacingAndGlyphs">Cycle</text>
<text x="151.70" y="541.90" font-size="27.5" fill="#000" textLength="172.00" lengthAdjust="spacingAndGlyphs"> .0% Agarose</text>
<text x="60.30" y="566.80" font-size="23.5" fill="#000" textLength="35.00" lengthAdjust="spacingAndGlyphs">0.4</text>
<text x="61.10" y="637.40" font-size="23.5" fill="#000" textLength="33.80" lengthAdjust="spacingAndGlyphs">0.2</text>
<text x="79.90" y="708.80" font-size="23.5" fill="#000" textLength="15.30" lengthAdjust="spacingAndGlyphs">0</text>
<text x="195.80" y="730.60" font-size="23.5" fill="#000" textLength="13.80" lengthAdjust="spacingAndGlyphs">2</text>
<text x="308.80" y="730.60" font-size="23.5" fill="#000" textLength="13.40" lengthAdjust="spacingAndGlyphs">4</text>
<text x="420.40" y="730.60" font-size="23.5" fill="#000" textLength="14.80" lengthAdjust="spacingAndGlyphs">6</text>
<text x="533.00" y="730.60" font-size="23.5" fill="#000" textLength="12.80" lengthAdjust="spacingAndGlyphs">8</text>
<text x="639.10" y="730.60" font-size="23.5" fill="#000" textLength="24.80" lengthAdjust="spacingAndGlyphs"> 0</text>
<text x="227.20" y="770.80" font-size="29" fill="#000" textLength="342.80" lengthAdjust="spacingAndGlyphs"><tspan fill="#ff0000">Cycles</tspan> per burrow episode</text>
<text transform="translate(37.90,682.80) rotate(-90)" font-size="28.2" fill="#000" textLength="103.70" lengthAdjust="spacingAndGlyphs">Fraction</text>
<text x="680.50" y="591.90" font-size="27.5" fill="#000" textLength="71.00" lengthAdjust="spacingAndGlyphs">Abort</text>
<text x="680.10" y="619.90" font-size="27.5" fill="#000" textLength="68.60" lengthAdjust="spacingAndGlyphs">Expel</text>
<text x="79.80" y="1317.30" font-size="23.5" fill="#000" textLength="15.20" lengthAdjust="spacingAndGlyphs">0</text>
<text x="80.00" y="1267.00" font-size="23.5" fill="#000" textLength="15.00" lengthAdjust="spacingAndGlyphs">2</text>
<text x="80.80" y="1216.70" font-size="23.5" fill="#000" textLength="14.20" lengthAdjust="spacingAndGlyphs">4</text>
<text x="79.80" y="1166.40" font-size="23.5" fill="#000" textLength="15.20" lengthAdjust="spacingAndGlyphs">6</text>
<text x="79.80" y="1116.10" font-size="23.5" fill="#000" textLength="15.20" lengthAdjust="spacingAndGlyphs">8</text>
<text x="72.00" y="1065.80" font-size="23.5" fill="#000" textLength="23.00" lengthAdjust="spacingAndGlyphs"> 0</text>
<text x="72.00" y="1015.50" font-size="23.5" fill="#000" textLength="23.00" lengthAdjust="spacingAndGlyphs"> 2</text>
<text x="72.00" y="965.20" font-size="23.5" fill="#000" textLength="23.00" lengthAdjust="spacingAndGlyphs"> 4</text>
<text x="72.00" y="914.90" font-size="23.5" fill="#000" textLength="23.00" lengthAdjust="spacingAndGlyphs"> 6</text>
<text x="168.30" y="1338.90" font-size="23.5" fill="#000" textLength="46.90" lengthAdjust="spacingAndGlyphs">0.75</text>
<text x="270.10" y="1338.90" font-size="23.5" fill="#000" textLength="47.20" lengthAdjust="spacingAndGlyphs"> .00</text>
<text x="377.60" y="1338.90" font-size="23.5" fill="#000" textLength="42.00" lengthAdjust="spacingAndGlyphs"> .25</text>
<text x="480.10" y="1338.90" font-size="23.5" fill="#000" textLength="44.10" lengthAdjust="spacingAndGlyphs"> .50</text>
<text x="584.80" y="1338.90" font-size="23.5" fill="#000" textLength="41.10" lengthAdjust="spacingAndGlyphs"> .75</text>
<text x="314.40" y="1378.60" font-size="27.5" fill="#000" textLength="132.60" lengthAdjust="spacingAndGlyphs">% Agarose</text>
<text transform="translate(49.90,1276.50) rotate(-90)" font-size="29" fill="#000" textLength="341.40" lengthAdjust="spacingAndGlyphs"><tspan fill="#ff0000">Cycles</tspan> per burrow episode</text>
<text x="207.80" y="1057.10" font-size="27.5" fill="#000" textLength="69.30" lengthAdjust="spacingAndGlyphs">Abort</text>
<text x="205.80" y="1086.00" font-size="27.5" fill="#000" textLength="70.50" lengthAdjust="spacingAndGlyphs">Expel</text>
<text x="-0.50" y="25.40" font-size="39.5" fill="#000" font-weight="bold" textLength="22.00" lengthAdjust="spacingAndGlyphs">a</text>
<text x="-2.00" y="541.80" font-size="40" fill="#000" font-weight="bold" textLength="28.00" lengthAdjust="spacingAndGlyphs">b</text>
<text x="-1.00" y="830.20" font-size="40" fill="#000" font-weight="bold" textLength="24.00" lengthAdjust="spacingAndGlyphs">c</text>
<rect x="157.90" y="1236.70" width="30" height="5" fill="#ff0000"/>
<rect x="197.70" y="1202.40" width="30" height="5" fill="#ff0000"/>
<rect x="261.30" y="1248.50" width="30" height="5" fill="#ff0000"/>
<rect x="301.00" y="1184.20" width="30" height="5" fill="#ff0000"/>
<rect x="365.30" y="1253.00" width="30" height="5" fill="#ff0000"/>
<rect x="404.70" y="1177.50" width="30" height="5" fill="#ff0000"/>
<rect x="468.10" y="1193.70" width="30" height="5" fill="#ff0000"/>
<rect x="507.90" y="1067.70" width="30" height="5" fill="#ff0000"/>
<rect x="571.80" y="1193.00" width="30" height="5" fill="#ff0000"/>
<rect x="611.00" y="1064.80" width="30" height="5" fill="#ff0000"/>
<path d="M123.86,12.75 V31.80" stroke="#000" stroke-width="2.43" fill="none"/>
<path d="M124.59,13.40 L118.20,16.81" stroke="#000" stroke-width="2.31" stroke-linecap="round" fill="none"/>
<path d="M147.04,419.25 V435.50" stroke="#000" stroke-width="1.82" fill="none"/>
<path d="M147.58,419.69 L142.81,422.69" stroke="#000" stroke-width="1.73" stroke-linecap="round" fill="none"/>
<path d="M305.12,419.25 V435.50" stroke="#000" stroke-width="1.91" fill="none"/>
<path d="M305.70,419.72 L300.66,422.69" stroke="#000" stroke-width="1.82" stroke-linecap="round" fill="none"/>
<path d="M159.86,522.85 V541.90" stroke="#000" stroke-width="2.43" fill="none"/>
<path d="M160.59,523.50 L154.20,526.91" stroke="#000" stroke-width="2.31" stroke-linecap="round" fill="none"/>
<path d="M645.69,714.35 V730.60" stroke="#000" stroke-width="1.96" fill="none"/>
<path d="M646.28,714.84 L641.12,717.79" stroke="#000" stroke-width="1.87" stroke-linecap="round" fill="none"/>
<path d="M78.11,1049.55 V1065.80" stroke="#000" stroke-width="1.82" fill="none"/>
<path d="M78.66,1049.99 L73.87,1052.99" stroke="#000" stroke-width="1.73" stroke-linecap="round" fill="none"/>
<path d="M78.11,999.25 V1015.50" stroke="#000" stroke-width="1.82" fill="none"/>
<path d="M78.66,999.69 L73.87,1002.69" stroke="#000" stroke-width="1.73" stroke-linecap="round" fill="none"/>
<path d="M78.11,948.95 V965.20" stroke="#000" stroke-width="1.82" fill="none"/>
<path d="M78.66,949.39 L73.87,952.39" stroke="#000" stroke-width="1.73" stroke-linecap="round" fill="none"/>
<path d="M78.11,898.65 V914.90" stroke="#000" stroke-width="1.82" fill="none"/>
<path d="M78.66,899.09 L73.87,902.09" stroke="#000" stroke-width="1.73" stroke-linecap="round" fill="none"/>
<path d="M277.27,1322.65 V1338.90" stroke="#000" stroke-width="2.13" fill="none"/>
<path d="M277.91,1323.20 L272.29,1326.09" stroke="#000" stroke-width="2.03" stroke-linecap="round" fill="none"/>
<path d="M383.98,1322.65 V1338.90" stroke="#000" stroke-width="1.90" fill="none"/>
<path d="M384.55,1323.11 L379.55,1326.09" stroke="#000" stroke-width="1.80" stroke-linecap="round" fill="none"/>
<path d="M486.80,1322.65 V1338.90" stroke="#000" stroke-width="1.99" fill="none"/>
<path d="M487.39,1323.15 L482.15,1326.09" stroke="#000" stroke-width="1.89" stroke-linecap="round" fill="none"/>
<path d="M591.04,1322.65 V1338.90" stroke="#000" stroke-width="1.86" fill="none"/>
<path d="M591.60,1323.10 L586.71,1326.09" stroke="#000" stroke-width="1.77" stroke-linecap="round" fill="none"/>
</svg>
</body></html>
